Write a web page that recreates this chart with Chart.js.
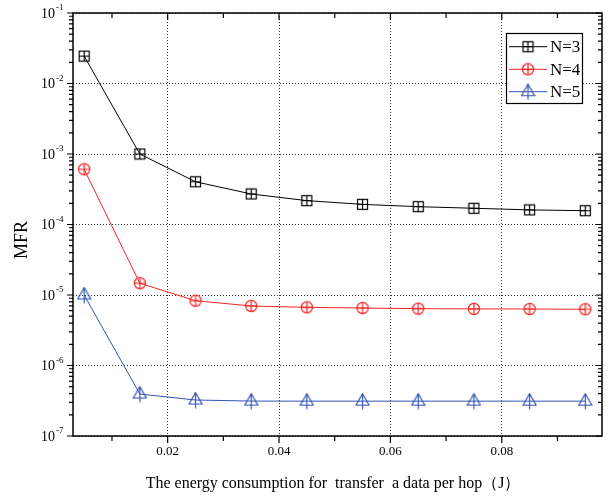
<!DOCTYPE html>
<html>
<head>
<meta charset="utf-8">
<script src="https://cdn.jsdelivr.net/npm/chart.js@4/dist/chart.umd.min.js"></script>
<style>
  html, body { margin: 0; padding: 0; background: #fff; }
  #c { display: block; }
</style>
</head>
<body>
<canvas id="c" width="608" height="500"></canvas>
<script>
// ---- data ----
const energy = [0.005, 0.015, 0.025, 0.035, 0.045, 0.055, 0.065, 0.075, 0.085, 0.095];
const mfrN3 = [2.45e-2, 1.0e-3, 4.04e-4, 2.71e-4, 2.18e-4, 1.93e-4, 1.79e-4, 1.70e-4, 1.61e-4, 1.57e-4];
const mfrN4 = [6.07e-4, 1.47e-5, 8.3e-6, 6.98e-6, 6.68e-6, 6.54e-6, 6.40e-6, 6.35e-6, 6.33e-6, 6.27e-6];
const mfrN5 = [1.0e-5, 3.94e-7, 3.24e-7, 3.13e-7, 3.12e-7, 3.12e-7, 3.12e-7, 3.12e-7, 3.12e-7, 3.12e-7];
const seriesNames = ['N=3', 'N=4', 'N=5'];
const xMajorTicks = [0.02, 0.04, 0.06, 0.08];
const xMinorTicks = [0.01, 0.03, 0.05, 0.07, 0.09];
const xTickLabels = ['0.02', '0.04', '0.06', '0.08'];
const yDecadeExponents = [-7, -6, -5, -4, -3, -2, -1];
const xTitle = 'The energy consumption for  transfer  a data per hop（J）';
const yTitle = 'MFR';

// ---- styles ----
const BLACK = '#000000', RED = '#f42424', BLUE = '#3454b2';
const SERIF = '"Liberation Serif", "Times New Roman", serif';

function makeCanvas(w, h) {
  const c = document.createElement('canvas');
  c.width = w; c.height = h;
  return c;
}
function squareMarker() {
  const c = makeCanvas(13, 13), g = c.getContext('2d');
  g.strokeStyle = BLACK; g.lineWidth = 1.2;
  g.strokeRect(1.5, 1.5, 10, 10);
  g.beginPath(); g.moveTo(6.5, 1.5); g.lineTo(6.5, 11.5); g.moveTo(1.5, 6.5); g.lineTo(11.5, 6.5); g.stroke();
  return c;
}
function circleMarker() {
  const c = makeCanvas(14, 14), g = c.getContext('2d');
  g.strokeStyle = RED; g.lineWidth = 1.2;
  g.beginPath(); g.arc(7, 7, 5.6, 0, Math.PI * 2); g.stroke();
  g.beginPath(); g.moveTo(7, 1.4); g.lineTo(7, 12.6); g.moveTo(1.4, 7); g.lineTo(12.6, 7); g.stroke();
  return c;
}
function triangleMarker() {
  const c = makeCanvas(15, 17), g = c.getContext('2d');
  g.strokeStyle = BLUE; g.lineWidth = 1.2;
  g.beginPath(); g.moveTo(7.5, 1); g.lineTo(14, 12.5); g.lineTo(1, 12.5); g.closePath(); g.stroke();
  g.beginPath(); g.moveTo(7.5, 1); g.lineTo(7.5, 16.5); g.stroke();
  return c;
}
const markers = [squareMarker(), circleMarker(), triangleMarker()];
const colors = [BLACK, RED, BLUE];
const seriesValues = [mfrN3, mfrN4, mfrN5];

const datasets = seriesValues.map((vals, i) => ({
  label: seriesNames[i],
  data: energy.map((x, j) => ({ x: x, y: vals[j] })),
  borderColor: colors[i],
  backgroundColor: colors[i],
  borderWidth: 1,
  pointStyle: markers[i],
  tension: 0,
  fill: false
}));

const frame = {
  id: 'frame',
  afterDraw(chart) {
    const ctx = chart.ctx, a = chart.chartArea;
    const xs = chart.scales.x, ys = chart.scales.y;
    ctx.save();
    ctx.strokeStyle = '#000'; ctx.lineWidth = 1.5;
    ctx.strokeRect(a.left, a.top, a.right - a.left, a.bottom - a.top);
    ctx.lineWidth = 1.2;
    ctx.beginPath();
    // x ticks (bottom outward, top inward)
    xMajorTicks.forEach(v => {
      const px = xs.getPixelForValue(v);
      ctx.moveTo(px, a.bottom); ctx.lineTo(px, a.bottom + 7);
      ctx.moveTo(px, a.top); ctx.lineTo(px, a.top + 7);
    });
    xMinorTicks.forEach(v => {
      const px = xs.getPixelForValue(v);
      ctx.moveTo(px, a.bottom); ctx.lineTo(px, a.bottom + 5);
      ctx.moveTo(px, a.top); ctx.lineTo(px, a.top + 5);
    });
    // y ticks (left outward, right inward)
    yDecadeExponents.forEach(k => {
      const py = ys.getPixelForValue(Math.pow(10, k));
      ctx.moveTo(a.left, py); ctx.lineTo(a.left - 6, py);
      ctx.moveTo(a.right, py); ctx.lineTo(a.right - 6, py);
      if (k < -1) {
        for (let m = 2; m <= 9; m++) {
          const pm = ys.getPixelForValue(m * Math.pow(10, k));
          ctx.moveTo(a.left, pm); ctx.lineTo(a.left - 4, pm);
          ctx.moveTo(a.right, pm); ctx.lineTo(a.right - 4, pm);
        }
      }
    });
    ctx.stroke();

    // x tick labels
    ctx.fillStyle = '#000';
    ctx.font = '13px ' + SERIF;
    ctx.textAlign = 'center'; ctx.textBaseline = 'middle';
    xMajorTicks.forEach((v, i) => {
      ctx.fillText(xTickLabels[i], xs.getPixelForValue(v), a.bottom + 16);
    });
    // y tick labels 10^k
    yDecadeExponents.forEach(k => {
      const py = ys.getPixelForValue(Math.pow(10, k));
      ctx.font = '14px ' + SERIF;
      ctx.textAlign = 'right'; ctx.textBaseline = 'middle';
      ctx.fillText('10', 55, py + 1);
      ctx.font = '9px ' + SERIF;
      ctx.textAlign = 'left';
      ctx.fillText('-' + Math.abs(k), 56, py - 5);
    });
    // axis titles
    ctx.font = '16px ' + SERIF;
    ctx.textAlign = 'center'; ctx.textBaseline = 'middle';
    ctx.fillText(xTitle, 333, 484);
    ctx.save();
    ctx.translate(22.5, 240);
    ctx.rotate(-Math.PI / 2);
    ctx.font = '18px ' + SERIF;
    ctx.fillText(yTitle, 0, 0);
    ctx.restore();

    // legend
    const lx = 506, ly = 33, lw = 76, lh = 70;
    ctx.fillStyle = '#fff';
    ctx.fillRect(lx, ly, lw, lh);
    ctx.strokeStyle = '#000'; ctx.lineWidth = 1.2;
    ctx.strokeRect(lx + 0.5, ly + 0.5, lw, lh);
    const rows = [46.7, 69.3, 91.7];
    seriesNames.forEach((name, i) => {
      const ry = rows[i];
      ctx.strokeStyle = colors[i]; ctx.lineWidth = 1;
      ctx.beginPath(); ctx.moveTo(509, ry); ctx.lineTo(547, ry); ctx.stroke();
      const mk = markers[i];
      ctx.drawImage(mk, 528 - mk.width / 2, ry - mk.height / 2);
      ctx.fillStyle = '#000';
      ctx.font = '17px ' + SERIF;
      ctx.textAlign = 'left'; ctx.textBaseline = 'middle';
      ctx.fillText(name, 550, ry + 1);
    });
    ctx.restore();
  }
};

new Chart(document.getElementById('c'), {
  type: 'line',
  data: { datasets: datasets },
  plugins: [frame],
  options: {
    responsive: false,
    devicePixelRatio: 1,
    animation: false,
    events: [],
    layout: { padding: { top: 13, right: 6, left: 0, bottom: 0 } },
    plugins: { legend: { display: false }, tooltip: { enabled: false } },
    scales: {
      x: {
        type: 'linear',
        min: 0.003,
        max: 0.098,
        afterBuildTicks: s => { s.ticks = xMajorTicks.map(v => ({ value: v })); },
        afterFit: s => { s.height = 64; },
        ticks: { display: false },
        grid: { color: '#333', lineWidth: 1, drawTicks: false },
        border: { display: false, dash: [1, 2] }
      },
      y: {
        type: 'logarithmic',
        min: 1e-7,
        max: 1e-1,
        afterBuildTicks: s => { s.ticks = yDecadeExponents.map(k => ({ value: Math.pow(10, k) })); },
        afterFit: s => { s.width = 73; },
        ticks: { display: false },
        grid: { color: '#333', lineWidth: 1, drawTicks: false },
        border: { display: false, dash: [1, 2] }
      }
    }
  }
});
</script>
</body>
</html>
